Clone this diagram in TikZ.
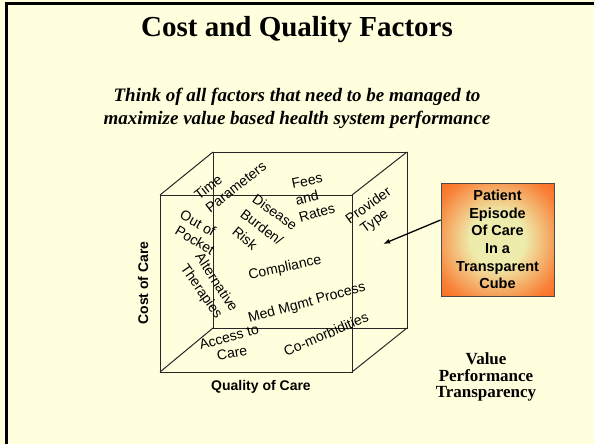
\documentclass[tikz,border=0pt]{standalone}
\usepackage{fontspec}
\setmainfont{Liberation Serif}
\setsansfont{Liberation Sans}
\usepackage{xcolor}
\usepackage{tikz}
\usetikzlibrary{arrows.meta,positioning,shadings}
\definecolor{slideCream}{RGB}{255,255,221}
\definecolor{calloutOrange}{RGB}{252,100,24}
\definecolor{calloutGlow}{RGB}{238,236,172}
\colorlet{edgeGray}{black!85}
% pale centre fading out to orange towards the rim
\pgfdeclareradialshading{calloutshade}{\pgfpoint{0bp}{0bp}}{%
  color(0bp)=(calloutGlow); color(12bp)=(calloutGlow);
  color(30bp)=(calloutOrange!80!calloutGlow); color(38bp)=(calloutOrange);
  color(50bp)=(calloutOrange)}
\tikzset{
  >=Latex,
  % slide heading and tagline
  headline/.style={
    font=\fontsize{29}{32}\selectfont\bfseries,
    inner sep=0pt
  },
  tagline/.style={
    font=\fontsize{19}{23}\selectfont\bfseries\itshape,
    align=center,
    inner sep=0pt
  },
  % words scattered inside the cube
  factor/.style={
    font=\sffamily\fontsize{14}{15}\selectfont,
    inner sep=0pt
  },
  axislabel/.style={
    font=\sffamily\bfseries\fontsize{14}{16}\selectfont,
    inner sep=0pt
  },
  callout/.style={
    draw=black!70,
    line width=0.9pt,
    shading=calloutshade,
    minimum width=113pt,
    minimum height=113pt,
    align=center,
    font=\sffamily\bfseries\fontsize{14.5}{17.7}\selectfont
  },
  summary/.style={
    font=\fontsize{17}{16.5}\selectfont\bfseries,
    align=center,
    inner sep=0pt
  },
  cubeedge/.style={
    draw=edgeGray,
    line width=1pt
  },
  arrow/.style={
    -{Latex[length=7pt,width=5pt]},
    line width=1.3pt,
    draw=black
  }
}

\begin{document}
\begin{tikzpicture}[x=1pt,y=-1pt]

\useasboundingbox[fill=slideCream] (0,0) rectangle (594,444);
\draw[line width=3pt] (6,444) -- (6,4) -- (594,4);

\node[headline] (title) at (297,30) {Cost and Quality Factors};
\node[tagline] (tag) at (297,108)
{Think of all factors that need to be managed to\\
maximize value based health system performance};

% Transparent cube: front face, back face, joining edges
\coordinate (f1) at (160,195);
\coordinate (f2) at (352,195);
\coordinate (f3) at (352,372);
\coordinate (f4) at (160,372);
\coordinate (b1) at (213,152);
\coordinate (b2) at (407,152);
\coordinate (b3) at (407,328);
\coordinate (b4) at (213,328);

\draw[cubeedge] (b1) -- (b2) -- (b3) -- (b4) -- cycle;
\draw[cubeedge] (f1) -- (f2) -- (f3) -- (f4) -- cycle;
\draw[cubeedge] (f1) -- (b1);
\draw[cubeedge] (f2) -- (b2);
\draw[cubeedge] (f3) -- (b3);
\draw[cubeedge] (f4) -- (b4);

% factors
\node[factor, rotate=38] (time) at (208,187) {Time};
\node[factor, rotate=38] (params) at (236,187) {Parameters};
\node[factor, rotate=12] (fees) at (307,181) {Fees};
\node[factor, rotate=14] (feesand) at (307,198) {and};
\node[factor, rotate=16] (rates) at (317,213) {Rates};
\node[factor, rotate=-35] (disease) at (275,212) {Disease};
\node[factor, rotate=-37] (burden) at (262,227) {Burden/};
\node[factor, rotate=-40] (risk) at (245,238) {Risk};
\node[factor, rotate=36] (provider) at (368,205) {Provider};
\node[factor, rotate=36] (ptype) at (375,222) {Type};
\node[factor, rotate=-30] (outof) at (198,223) {Out of};
\node[factor, rotate=-31] (pocket) at (195,240) {Pocket};
\node[factor, rotate=-57] (altern) at (217,282) {Alternative};
\node[factor, rotate=-55] (therap) at (201,292) {Therapies};
\node[factor, rotate=12] (compl) at (285,268) {Compliance};
\node[factor, rotate=15] (medmgmt) at (307,303) {Med Mgmt Process};
\node[factor, rotate=15] (access) at (229,337) {Access to};
\node[factor, rotate=10] (accare) at (232,353) {Care};
\node[factor, rotate=23] (comorb) at (326,334) {Co-morbidities};

% axes
\node[axislabel, rotate=90] (cost) at (143,283) {Cost of Care};
\node[axislabel] (quality) at (261,387) {Quality of Care};

% callout box pointing into the cube
\node[callout] (episode) at (497.5,239.5)
{Patient\\Episode\\Of Care\\In a\\Transparent\\Cube};
\coordinate (inside) at (383,244);
\draw[arrow] (episode.west |- 0,220) -- (inside);

\node[summary] (value) at (486,377)
{Value\\Performance\\Transparency};

\end{tikzpicture}
\end{document}
